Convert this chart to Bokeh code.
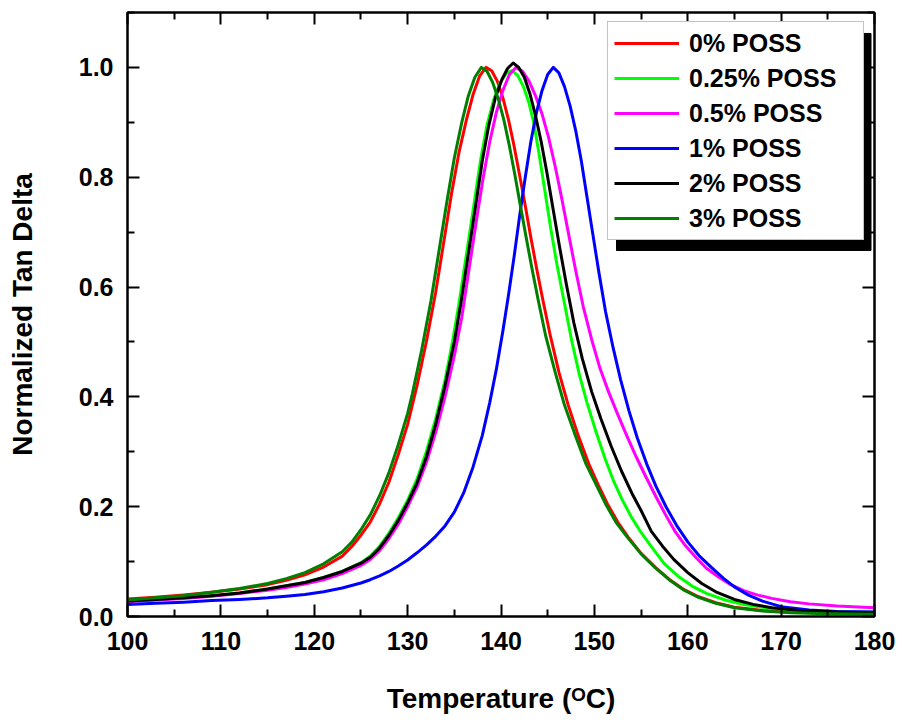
from bokeh.plotting import figure
from bokeh.models import (Range1d, FixedTicker, LinearAxis, NumeralTickFormatter,
                          CustomJSTickFormatter, Legend, LegendItem)
from bokeh.embed import file_html
from bokeh.resources import INLINE

# ---------------- data ----------------
series_labels = ["0% POSS", "0.25% POSS", "0.5% POSS", "1% POSS", "2% POSS", "3% POSS"]

temp_0 = [100, 103, 106, 109, 112, 115, 117, 119, 121, 123, 124, 125, 126, 127, 128, 129, 130, 131, 132,
          133, 133.9, 134.7, 135.5, 136.3, 137.0, 137.7, 138.4, 139.0, 139.6, 140.2, 140.8, 141.4,
          142.0, 142.6, 143.2, 143.8, 144.5, 145.3, 146.2, 147.2, 148.3, 149.4, 150.4, 151.4, 152.5,
          153.6, 155, 156.5, 158, 159.5, 161, 163, 165, 168, 171, 175, 180]
tan_0 = [0.032, 0.035, 0.039, 0.044, 0.050, 0.058, 0.066, 0.076, 0.090, 0.110, 0.127, 0.148, 0.172, 0.205,
         0.245, 0.295, 0.35, 0.42, 0.50, 0.59, 0.685, 0.77, 0.845, 0.905, 0.95, 0.984, 1.0, 0.994, 0.975,
         0.945, 0.905, 0.857, 0.803, 0.748, 0.69, 0.635, 0.575, 0.51, 0.445, 0.385, 0.328, 0.278, 0.24,
         0.205, 0.172, 0.145, 0.115, 0.09, 0.068, 0.05, 0.037, 0.025, 0.017, 0.011, 0.008, 0.006, 0.005]

temp_025 = [100, 103, 106, 109, 112, 115, 117, 119, 121, 123, 125, 126, 127, 128, 129, 130, 131, 132, 133,
            134, 134.8, 135.5, 136.3, 137.1, 137.8, 138.5, 139.2, 139.9, 140.6, 141.2, 141.8, 142.4,
            143.0, 143.5, 144.1, 144.7, 145.3, 146.0, 146.8, 147.6, 148.4, 149.2, 150.2, 151.2, 152.1,
            153.0, 154.0, 155.0, 156.2, 157.5, 159, 160.5, 162, 164, 166, 168, 171, 175, 180]
tan_025 = [0.028, 0.031, 0.034, 0.038, 0.043, 0.050, 0.056, 0.062, 0.071, 0.082, 0.098, 0.11, 0.128, 0.152,
           0.18, 0.212, 0.25, 0.30, 0.36, 0.43, 0.50, 0.57, 0.66, 0.75, 0.83, 0.895, 0.94, 0.972, 0.99,
           0.994, 0.985, 0.965, 0.935, 0.90, 0.84, 0.775, 0.71, 0.64, 0.57, 0.50, 0.44, 0.39, 0.335,
           0.285, 0.245, 0.212, 0.18, 0.153, 0.125, 0.096, 0.073, 0.055, 0.042, 0.03, 0.022, 0.017,
           0.012, 0.009, 0.008]

temp_05 = [100, 103, 106, 109, 112, 115, 117, 119, 121, 123, 125, 126, 127, 128, 129, 130, 131, 132, 133,
           134, 135, 135.8, 136.6, 137.4, 138.1, 138.8, 139.5, 140.2, 140.9, 141.6, 142.3, 143.0, 143.7,
           144.4, 145.1, 145.8, 146.5, 147.2, 148.0, 148.8, 149.7, 150.6, 151.5, 152.5, 153.5, 154.5,
           155.5, 156.6, 157.6, 158.6, 159.7, 160.9, 162.0, 163.3, 164.6, 166, 167.5, 169, 171, 173,
           176, 180]
tan_05 = [0.027, 0.030, 0.033, 0.037, 0.042, 0.048, 0.053, 0.059, 0.067, 0.078, 0.093, 0.104, 0.12, 0.142,
          0.168, 0.2, 0.235, 0.28, 0.335, 0.40, 0.475, 0.545, 0.635, 0.725, 0.80, 0.865, 0.918, 0.958,
          0.987, 1.0, 0.993, 0.975, 0.948, 0.915, 0.872, 0.82, 0.762, 0.70, 0.63, 0.565, 0.505, 0.452,
          0.41, 0.368, 0.328, 0.29, 0.255, 0.218, 0.186, 0.156, 0.13, 0.107, 0.088, 0.072, 0.058,
          0.047, 0.039, 0.033, 0.027, 0.023, 0.019, 0.016]

temp_1 = [100, 103, 106, 109, 112, 115, 117, 119, 121, 123, 125, 126, 127, 128, 129, 130, 131, 132, 133,
          134, 135, 136, 137, 138, 138.8, 139.5, 140.2, 140.8, 141.4, 142.0, 142.6, 143.2, 143.8, 144.4,
          145.0, 145.6, 146.2, 146.8, 147.4, 148.0, 148.6, 149.2, 149.8, 150.5, 151.2, 152.0, 152.8,
          153.7, 154.6, 155.6, 156.6, 157.7, 158.8, 160.0, 161.2, 162.5, 163.8, 165, 166.5, 168, 170,
          173, 176, 180]
tan_1 = [0.022, 0.024, 0.026, 0.029, 0.031, 0.034, 0.037, 0.040, 0.045, 0.052, 0.061, 0.067, 0.074, 0.082,
         0.092, 0.103, 0.116, 0.130, 0.146, 0.165, 0.19, 0.225, 0.272, 0.33, 0.39, 0.45, 0.52, 0.585,
         0.655, 0.73, 0.80, 0.865, 0.918, 0.958, 0.987, 1.0, 0.99, 0.965, 0.93, 0.885, 0.83, 0.765,
         0.70, 0.625, 0.555, 0.49, 0.432, 0.375, 0.325, 0.278, 0.237, 0.199, 0.166, 0.136, 0.111, 0.09,
         0.07, 0.054, 0.039, 0.028, 0.018, 0.012, 0.009, 0.008]

temp_2 = [100, 103, 106, 109, 112, 115, 117, 119, 121, 123, 125, 126, 127, 128, 129, 130, 131, 132, 133,
          134, 135, 135.7, 136.5, 137.3, 138.0, 138.7, 139.4, 140.1, 140.7, 141.3, 141.9, 142.5, 143.1,
          143.7, 144.3, 144.9, 145.5, 146.2, 147.0, 147.8, 148.7, 149.7, 150.7, 151.8, 152.9, 154.0,
          155.0, 156.1, 157.3, 158.5, 160, 161.5, 163, 165, 167, 169, 172, 176, 180]
tan_2 = [0.028, 0.031, 0.034, 0.038, 0.043, 0.050, 0.056, 0.062, 0.071, 0.082, 0.097, 0.108, 0.125, 0.148,
         0.175, 0.207, 0.243, 0.29, 0.35, 0.42, 0.50, 0.57, 0.66, 0.75, 0.83, 0.895, 0.945, 0.978,
         0.998, 1.008, 1.0, 0.982, 0.952, 0.912, 0.865, 0.81, 0.75, 0.68, 0.605, 0.535, 0.47, 0.41,
         0.36, 0.31, 0.265, 0.225, 0.193, 0.155, 0.128, 0.104, 0.08, 0.06, 0.045, 0.031, 0.022, 0.016,
         0.011, 0.008, 0.006]

temp_3 = [100, 103, 106, 109, 112, 115, 117, 119, 121, 123, 124, 125, 126, 127, 128, 129, 130, 130.5,
          131.5, 132.5, 133.4, 134.2, 135.0, 135.8, 136.5, 137.2, 137.9, 138.5, 139.1, 139.7, 140.3,
          140.9, 141.5, 142.1, 142.7, 143.3, 144.0, 144.8, 145.8, 146.8, 148.0, 149.1, 150.2, 151.2,
          152.3, 153.5, 155, 156.5, 158, 159.5, 161, 163, 165, 168, 171, 175, 180]
tan_3 = [0.030, 0.034, 0.038, 0.044, 0.051, 0.060, 0.069, 0.080, 0.096, 0.118, 0.135, 0.158, 0.185, 0.22,
         0.262, 0.313, 0.37, 0.405, 0.485, 0.575, 0.67, 0.755, 0.835, 0.90, 0.948, 0.982, 1.0, 0.993,
         0.973, 0.943, 0.905, 0.857, 0.803, 0.746, 0.69, 0.635, 0.575, 0.51, 0.445, 0.385, 0.328,
         0.278, 0.24, 0.205, 0.172, 0.145, 0.114, 0.089, 0.067, 0.049, 0.036, 0.024, 0.016, 0.010,
         0.007, 0.005, 0.004]

x_major_ticks = [100, 110, 120, 130, 140, 150, 160, 170, 180]
x_minor_ticks = [105, 115, 125, 135, 145, 155, 165, 175]
y_major_ticks = [0.0, 0.2, 0.4, 0.6, 0.8, 1.0]
y_minor_ticks = [0.1, 0.3, 0.5, 0.7, 0.9, 1.1]

# ---------------- styles ----------------
series_colors = ["#ff0000", "#00ff00", "#ff00ff", "#0000ff", "#000000", "#008000"]
FONT = "Liberation Sans"

W, H = 900, 723
BL, BR, BT, BB = 127, 26, 12, 107
X0, X1, Y0, Y1 = 100, 180, 0.0, 1.1

p = figure(width=W, height=H, output_backend="svg", toolbar_location=None,
           x_range=Range1d(X0, X1), y_range=Range1d(Y0, Y1),
           min_border_left=BL, min_border_right=BR, min_border_top=BT, min_border_bottom=BB)
p.xgrid.visible = False
p.ygrid.visible = False
p.background_fill_color = "white"
p.border_fill_color = "white"
p.outline_line_color = "black"
p.outline_line_width = 2

fw = W - BL - BR
fh = H - BT - BB


def px_x(px):   # canvas pixel -> data x
    return X0 + (px - BL) * (X1 - X0) / fw


def px_y(py):   # canvas pixel (from top) -> data y
    return Y0 + (BT + fh - py) * (Y1 - Y0) / fh


def style_axis(ax, ticks, minor, labels=True):
    ax.ticker = FixedTicker(ticks=ticks, minor_ticks=minor)
    ax.axis_line_width = 2
    ax.axis_line_color = "black"
    ax.major_tick_line_width = 2
    ax.minor_tick_line_width = 2
    ax.major_tick_line_color = "black"
    ax.minor_tick_line_color = "black"
    ax.major_tick_in = 12
    ax.major_tick_out = 0
    ax.minor_tick_in = 7
    ax.minor_tick_out = 0
    ax.major_label_text_font = FONT
    ax.major_label_text_font_style = "bold"
    ax.major_label_text_font_size = "25px"
    ax.major_label_text_color = "black"
    if not labels:
        ax.formatter = CustomJSTickFormatter(code="return ''")
        ax.major_label_standoff = 0
        ax.major_label_text_font_size = "0px"


style_axis(p.xaxis[0], x_major_ticks, x_minor_ticks)
style_axis(p.yaxis[0], y_major_ticks, y_minor_ticks)
p.xaxis[0].major_label_standoff = 15
p.yaxis[0].major_label_standoff = 14
p.yaxis[0].formatter = NumeralTickFormatter(format="0.0")

for ax, title, standoff in ((p.yaxis[0], "Normalized Tan Delta", 38),
                            (p.xaxis[0], "Temperature (\u1d3cC)", 30)):
    ax.axis_label = title
    ax.axis_label_text_font = FONT
    ax.axis_label_text_font_style = "bold"
    ax.axis_label_text_font_size = "28px"
    ax.axis_label_text_color = "black"
    ax.axis_label_standoff = standoff

top_ax = LinearAxis()
style_axis(top_ax, x_major_ticks, x_minor_ticks, labels=False)
p.add_layout(top_ax, "above")
right_ax = LinearAxis()
style_axis(right_ax, y_major_ticks, y_minor_ticks, labels=False)
p.add_layout(right_ax, "right")

# legend shadow (black box behind the legend)
p.quad(left=px_x(616), right=px_x(870.5), top=px_y(33), bottom=px_y(250),
       fill_color="black", line_color="black")

# curves
all_temps = [temp_0, temp_025, temp_05, temp_1, temp_2, temp_3]
all_tans = [tan_0, tan_025, tan_05, tan_1, tan_2, tan_3]
renderers = []
for t, v, c in zip(all_temps, all_tans, series_colors):
    r = p.line(t, v, line_color=c, line_width=3, line_join="round")
    renderers.append(r)

legend = Legend(items=[LegendItem(label=lab, renderers=[r]) for lab, r in zip(series_labels, renderers)],
                location=(480, 376), orientation="vertical",
                label_text_font=FONT, label_text_font_style="bold", label_text_font_size="25px",
                label_text_color="black", glyph_width=65, glyph_height=30, label_height=30,
                label_width=168, label_standoff=10, spacing=5, padding=6, margin=0,
                border_line_color="#888888", border_line_width=1,
                background_fill_color="white", background_fill_alpha=1.0)
p.add_layout(legend, "center")

open("out.html", "w").write(file_html(p, INLINE))
